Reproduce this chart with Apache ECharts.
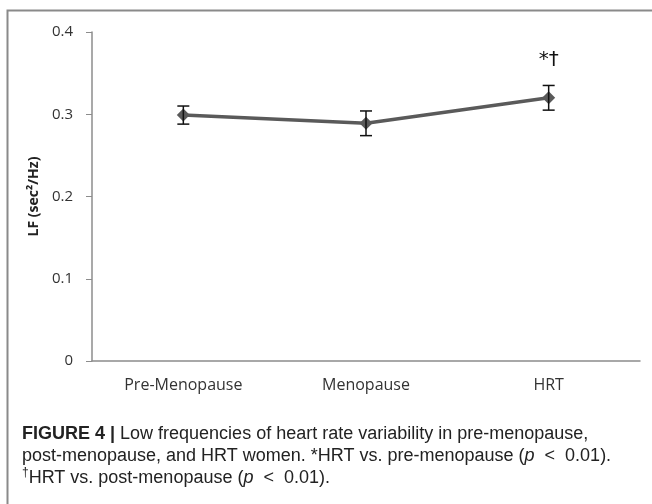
<!DOCTYPE html>
<html>
<head>
<meta charset="utf-8">
<script src="https://cdn.jsdelivr.net/npm/echarts@6/dist/echarts.min.js"></script>
<style>
  html, body { margin: 0; padding: 0; background: #fff; }
  #main { width: 652px; height: 504px; }
</style>
</head>
<body>
<div id="main"></div>
<script>
// data
const categories = ['Pre-Menopause', 'Menopause', 'HRT'];
const lfMean = [0.299, 0.289, 0.320];
const lfErr = [0.011, 0.015, 0.015];
const yTicks = [0, 0.1, 0.2, 0.3, 0.4];

const chartDom = document.getElementById('main');
const myChart = echarts.init(chartDom);

const errData = categories.map((c, i) => [i, lfMean[i] - lfErr[i], lfMean[i] + lfErr[i]]);

const option = {
  animation: false,
  backgroundColor: '#fff',
  grid: { left: 92, right: 12, top: 32, bottom: 143 },
  xAxis: {
    type: 'category',
    data: categories,
    axisLine: { lineStyle: { color: '#8c8c8c', width: 1.5 } },
    axisTick: { length: 6, lineStyle: { color: '#8c8c8c' } },
    axisLabel: { margin: 16, fontFamily: 'Open Sans', fontSize: 16, color: '#333' }
  },
  yAxis: {
    type: 'value',
    min: yTicks[0],
    max: yTicks[yTicks.length - 1],
    interval: 0.1,
    name: 'LF (sec²/Hz)',
    nameLocation: 'middle',
    nameRotate: 90,
    nameGap: 48,
    nameTextStyle: { fontFamily: 'Open Sans', fontWeight: 'bold', fontSize: 14, color: '#222' },
    splitLine: { show: false },
    axisLine: { show: true, lineStyle: { color: '#8c8c8c', width: 1.5 } },
    axisTick: { show: true, length: 6, lineStyle: { color: '#8c8c8c' } },
    axisLabel: {
      margin: 19, fontFamily: 'Open Sans', fontSize: 15, color: '#333',
      formatter: v => (v === 0 ? '0' : v.toFixed(1))
    }
  },
  series: [
    {
      type: 'line',
      data: lfMean.map((v, i) => i === 2
        ? { value: v, label: { show: true, formatter: '*†', position: 'top', distance: 22, fontSize: 20, color: '#111', fontFamily: 'DejaVu Sans' } }
        : v),
      symbol: 'diamond',
      symbolSize: 13,
      lineStyle: { color: '#5a5a5a', width: 3.5 },
      itemStyle: { color: '#5a5a5a' },
      z: 3
    },
    {
      type: 'custom',
      data: errData,
      z: 4,
      renderItem: function (params, api) {
        const lo = api.coord([api.value(0), api.value(1)]);
        const hi = api.coord([api.value(0), api.value(2)]);
        const cap = 6;
        const style = { stroke: '#111', lineWidth: 1.5 };
        return {
          type: 'group',
          children: [
            { type: 'line', shape: { x1: lo[0], y1: lo[1], x2: hi[0], y2: hi[1] }, style },
            { type: 'line', shape: { x1: lo[0] - cap, y1: lo[1], x2: lo[0] + cap, y2: lo[1] }, style },
            { type: 'line', shape: { x1: hi[0] - cap, y1: hi[1], x2: hi[0] + cap, y2: hi[1] }, style }
          ]
        };
      }
    }
  ],
  graphic: [
    // frame round the figure
    { type: 'polyline', shape: { points: [[7.5, 504], [7.5, 10.5], [652, 10.5]] },
      style: { stroke: '#8a8a8a', lineWidth: 2, fill: null } },
    {
      type: 'text', left: 22, top: 423,
      style: {
        text: '{b|FIGURE 4 |} Low frequencies of heart rate variability in pre-menopause,\n' +
              'post-menopause, and HRT women. *HRT vs. pre-menopause ({i|p}  <  0.01).\n' +
              '{s|†}HRT vs. post-menopause ({i|p}  <  0.01).',
        fontFamily: 'Liberation Sans', fontSize: 18, lineHeight: 22, fill: '#222',
        rich: {
          b: { fontWeight: 'bold', fontFamily: 'Liberation Sans', fontSize: 18, fill: '#222' },
          i: { fontStyle: 'italic', fontFamily: 'Liberation Sans', fontSize: 18, fill: '#222' },
          s: { fontFamily: 'Liberation Sans', fontSize: 12, verticalAlign: 'top', fill: '#222' }
        }
      }
    }
  ]
};

option && myChart.setOption(option);
</script>
</body>
</html>
